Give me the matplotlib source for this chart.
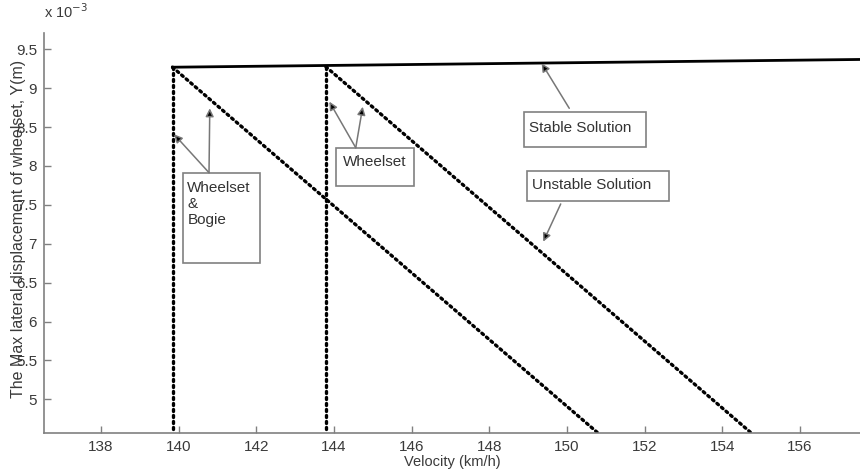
import matplotlib
matplotlib.use('Agg')
import matplotlib.pyplot as plt
from matplotlib.patches import Rectangle
from matplotlib.ticker import FuncFormatter

plt.rcParams['font.family'] = ['Liberation Sans', 'DejaVu Sans']

# velocity (km/h) and max lateral displacement (m)
v_stable = [139.84, 157.6]
y_stable = [9.27e-3, 9.37e-3]

# wheelset & bogie model
v_wb_crit = [139.84, 139.84]
y_wb_crit = [9.27e-3, 4.567e-3]
v_wb_unstable = [139.84, 150.80]
y_wb_unstable = [9.27e-3, 4.567e-3]

# wheelset only model
v_ws_crit = [143.79, 143.79]
y_ws_crit = [9.276e-3, 4.567e-3]
v_ws_unstable = [143.79, 154.75]
y_ws_unstable = [9.276e-3, 4.567e-3]

x_ticks = [138, 140, 142, 144, 146, 148, 150, 152, 154, 156]
y_ticks = [5e-3, 5.5e-3, 6e-3, 6.5e-3, 7e-3, 7.5e-3, 8e-3, 8.5e-3, 9e-3, 9.5e-3]

grey = '#808080'
txt = '#333333'

fig = plt.figure(figsize=(8.6, 4.7), dpi=100)
ax = fig.add_axes([0.0512, 0.0787, 0.9488, 0.8511])

ax.plot(v_stable, y_stable, color='k', lw=2)
for v, y in [(v_wb_crit, y_wb_crit), (v_wb_unstable, y_wb_unstable),
             (v_ws_crit, y_ws_crit), (v_ws_unstable, y_ws_unstable)]:
    ax.plot(v, y, color='k', lw=2.4, linestyle=(0, (0.6, 1.2)),
            dash_capstyle='round')

ax.set_xlim(136.53, 157.55)
ax.set_ylim(4.567e-3, 9.71e-3)
ax.set_xticks(x_ticks)
ax.set_yticks(y_ticks)
ax.yaxis.set_major_formatter(FuncFormatter(lambda val, pos: '%g' % round(val * 1e3, 2)))

for side in ['top', 'right']:
    ax.spines[side].set_visible(False)
for side in ['left', 'bottom']:
    ax.spines[side].set_color(grey)
    ax.spines[side].set_linewidth(1.2)
ax.tick_params(direction='in', length=5, width=1, color=grey,
               labelsize=11, labelcolor='#3a3a3a', pad=5)

ax.set_xlabel('Velocity (km/h)', fontsize=10.5, color='#3a3a3a', labelpad=1)
ax.set_ylabel('The Max lateral displacement of wheelset, Y(m)', fontsize=11.5,
              color='#3a3a3a')
ax.yaxis.set_label_coords(-0.022, 0.51)
ax.text(0.0, 1.03, r'x 10$^{-3}$', transform=ax.transAxes, fontsize=10.5,
        color='#3a3a3a', ha='left', va='bottom')

# annotation boxes
boxes = [(140.10, 6.75e-3, 1.99, 1.164e-3),
         (144.05, 7.747e-3, 2.01, 0.488e-3),
         (148.90, 8.248e-3, 3.13, 0.45e-3),
         (148.96, 7.554e-3, 3.67, 0.386e-3)]
for x0, y0, w, h in boxes:
    ax.add_patch(Rectangle((x0, y0), w, h, fill=False, edgecolor=grey, lw=1.2))

ax.text(140.22, 7.81e-3, 'Wheelset\n&\nBogie', fontsize=11, color=txt,
        ha='left', va='top', linespacing=1.2)
ax.text(145.05, 8.05e-3, 'Wheelset', fontsize=11, color=txt, ha='center', va='center')
ax.text(149.03, 8.49e-3, 'Stable Solution', fontsize=11, color=txt, ha='left', va='center')
ax.text(149.10, 7.75e-3, 'Unstable Solution', fontsize=11, color=txt, ha='left', va='center')

arrows = [((140.78, 7.914e-3), (139.88, 8.407e-3)),
          ((140.78, 7.914e-3), (140.80, 8.742e-3)),
          ((144.56, 8.235e-3), (143.88, 8.827e-3)),
          ((144.56, 8.235e-3), (144.74, 8.762e-3)),
          ((150.06, 8.742e-3), (149.35, 9.32e-3)),
          ((149.84, 7.512e-3), (149.39, 7.027e-3))]
for start, end in arrows:
    ax.annotate('', xy=end, xytext=start,
                arrowprops=dict(arrowstyle='-|>', mutation_scale=12, lw=1.1,
                                ec='#777777', fc='k', shrinkA=0, shrinkB=0))

fig.savefig('out.png', dpi=100)
